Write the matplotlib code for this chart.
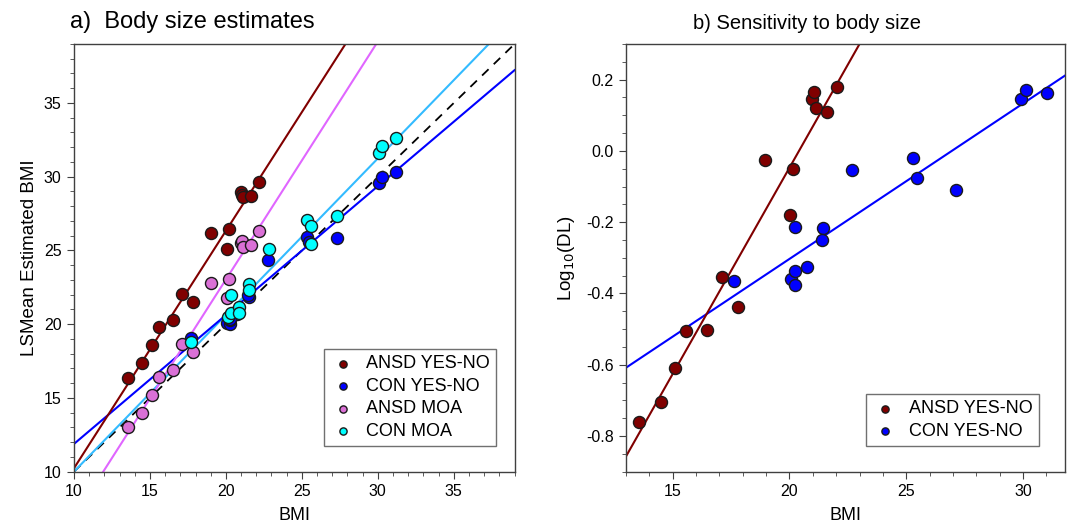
import numpy as np
import matplotlib
matplotlib.use("Agg")
import matplotlib.pyplot as plt
from matplotlib.ticker import MultipleLocator

plt.rcParams['font.family'] = ['Liberation Sans', 'DejaVu Sans']

# ---- panel a data (BMI vs LSMean estimated BMI) ----
ansd_bmi = [13.54, 14.5, 15.12, 15.58, 16.5, 17.14, 17.85, 18.99, 20.1, 20.2,
            21.0, 21.07, 21.12, 21.62, 22.17]
ansd_yesno = [16.37, 17.39, 18.61, 19.83, 20.26, 22.05, 21.52, 26.18, 25.12, 26.45,
              28.98, 28.75, 28.6, 28.71, 29.62]
ansd_moa = [13.01, 14.0, 15.22, 16.44, 16.9, 18.68, 18.14, 22.8, 21.78, 23.06,
            25.48, 25.66, 25.21, 25.37, 26.3]

con_bmi = [17.69, 20.1, 20.25, 20.28, 20.75, 20.24, 21.49, 21.45, 22.79, 25.36,
           25.5, 27.32, 30.06, 30.28, 31.2]
con_yesno = [19.08, 20.1, 20.0, 20.3, 20.7, 20.35, 21.87, 22.0, 24.37, 25.91,
             25.6, 25.87, 29.6, 30.0, 30.3]
con_moa_bmi = [17.69, 20.13, 20.35, 20.83, 20.88, 20.33, 21.55, 21.5, 22.81, 25.36,
               25.6, 25.6, 27.32, 30.05, 30.25, 31.2]
con_moa = [18.77, 20.47, 20.74, 21.15, 20.74, 21.96, 22.7, 22.34, 25.1, 27.07,
           26.66, 25.44, 27.36, 31.6, 32.1, 32.6]

# fitted lines (slope, intercept)
fit_a = {
    'ansd_yesno': (1.61, -5.87),
    'con_yesno': (0.874, 3.14),
    'ansd_moa': (1.614, -9.25),
    'con_moa': (1.062, -0.62),
}

# ---- panel b data (BMI vs log10 DL) ----
ansd_bmi_b = [13.54, 14.48, 15.11, 15.55, 16.46, 17.09, 17.81, 18.95, 20.01, 20.14,
              20.97, 21.03, 21.12, 21.59, 22.04]
ansd_dl = [-0.762, -0.705, -0.608, -0.506, -0.502, -0.353, -0.438, -0.026, -0.179, -0.052,
           0.145, 0.166, 0.121, 0.110, 0.180]
con_bmi_b = [17.64, 20.07, 20.25, 20.25, 20.75, 20.24, 21.43, 21.4, 22.67, 25.27,
             25.47, 27.13, 29.9, 30.12, 31.03]
con_dl = [-0.365, -0.358, -0.336, -0.376, -0.327, -0.213, -0.215, -0.249, -0.053, -0.020,
          -0.077, -0.110, 0.145, 0.170, 0.162]

fit_b = {
    'ansd_yesno': (0.1157, -2.361),
    'con_yesno': (0.0436, -1.175),
}

c_ansd = '#800000'
c_con = '#0000FF'
c_amoa = '#DA70D6'
c_amoa_line = '#E066FF'
c_cmoa = '#00FFFF'
c_cmoa_line = '#33BBFF'
spine_c = '#404040'


def style_axes(ax):
    for s in ax.spines.values():
        s.set_color(spine_c)
        s.set_linewidth(1.0)
    ax.tick_params(which='both', direction='out', color=spine_c, labelsize=11.5,
                   top=False, right=False)
    ax.tick_params(which='major', length=5, pad=4)
    ax.tick_params(which='minor', length=3)


def fit_line(ax, xr, coef, **kw):
    x = np.array(xr)
    ax.plot(x, coef[0] * x + coef[1], **kw)


def add_legend(ax, anchor):
    leg = ax.legend(loc='lower right', bbox_to_anchor=anchor, fontsize=13,
                    markerscale=0.6, handlelength=1.4, handletextpad=0.6,
                    labelspacing=0.3, borderpad=0.35, borderaxespad=0,
                    fancybox=False, framealpha=1)
    leg.get_frame().set_edgecolor('#707070')
    return leg


fig = plt.figure(figsize=(10.72, 5.27), dpi=100)
ax1 = fig.add_axes([0.069, 0.105, 0.411, 0.8115])
ax2 = fig.add_axes([0.584, 0.105, 0.4095, 0.8115])

# ---- panel a ----
xr = [10, 39]
ax1.plot(xr, xr, ls=(0, (5, 4)), color='black', lw=1.3, zorder=2)
fit_line(ax1, xr, fit_a['con_moa'], color=c_cmoa_line, lw=1.5, zorder=2)
fit_line(ax1, xr, fit_a['con_yesno'], color=c_con, lw=1.5, zorder=2)
fit_line(ax1, xr, fit_a['ansd_moa'], color=c_amoa_line, lw=1.5, zorder=2)
fit_line(ax1, xr, fit_a['ansd_yesno'], color=c_ansd, lw=1.5, zorder=2)

mk = dict(s=75, edgecolors='#1a1a1a', linewidths=1.0, zorder=3)
ax1.scatter(ansd_bmi, ansd_yesno, color=c_ansd, label='ANSD YES-NO', **mk)
ax1.scatter(con_bmi, con_yesno, color=c_con, label='CON YES-NO', **mk)
ax1.scatter(ansd_bmi, ansd_moa, color=c_amoa, label='ANSD MOA', **mk)
ax1.scatter(con_moa_bmi, con_moa, color=c_cmoa, label='CON MOA', **mk)

ax1.set_xlim(10, 39)
ax1.set_ylim(10, 39)
ax1.xaxis.set_major_locator(MultipleLocator(5))
ax1.xaxis.set_minor_locator(MultipleLocator(1))
ax1.yaxis.set_major_locator(MultipleLocator(5))
ax1.yaxis.set_minor_locator(MultipleLocator(1))
style_axes(ax1)
ax1.set_xlabel('BMI', fontsize=13, labelpad=6)
ax1.set_ylabel('LSMean Estimated BMI', fontsize=13.5, labelpad=4)
ax1.text(-0.01, 1.025, 'a)  Body size estimates', transform=ax1.transAxes,
         fontsize=17, ha='left', va='bottom')
add_legend(ax1, (0.958, 0.06))

# ---- panel b ----
xr = [13, 31.8]
fit_line(ax2, xr, fit_b['con_yesno'], color=c_con, lw=1.5, zorder=2)
fit_line(ax2, xr, fit_b['ansd_yesno'], color=c_ansd, lw=1.5, zorder=2)
ax2.scatter(ansd_bmi_b, ansd_dl, color=c_ansd, label='ANSD YES-NO', **mk)
ax2.scatter(con_bmi_b, con_dl, color=c_con, label='CON YES-NO', **mk)

ax2.set_xlim(13, 31.8)
ax2.set_ylim(-0.9, 0.3)
ax2.xaxis.set_major_locator(MultipleLocator(5))
ax2.xaxis.set_minor_locator(MultipleLocator(1))
ax2.yaxis.set_major_locator(MultipleLocator(0.2))
ax2.yaxis.set_minor_locator(MultipleLocator(0.05))
ax2.yaxis.set_major_formatter(matplotlib.ticker.FormatStrFormatter('%.1f'))
style_axes(ax2)
ax2.set_xlabel('BMI', fontsize=13, labelpad=6)
ax2.set_ylabel('Log$_{10}$(DL)', fontsize=13.5, labelpad=6)
ax2.text(0.412, 1.025, 'b) Sensitivity to body size', transform=ax2.transAxes,
         fontsize=14.5, ha='center', va='bottom')
add_legend(ax2, (0.94, 0.06))

fig.savefig('out.png', dpi=100)
